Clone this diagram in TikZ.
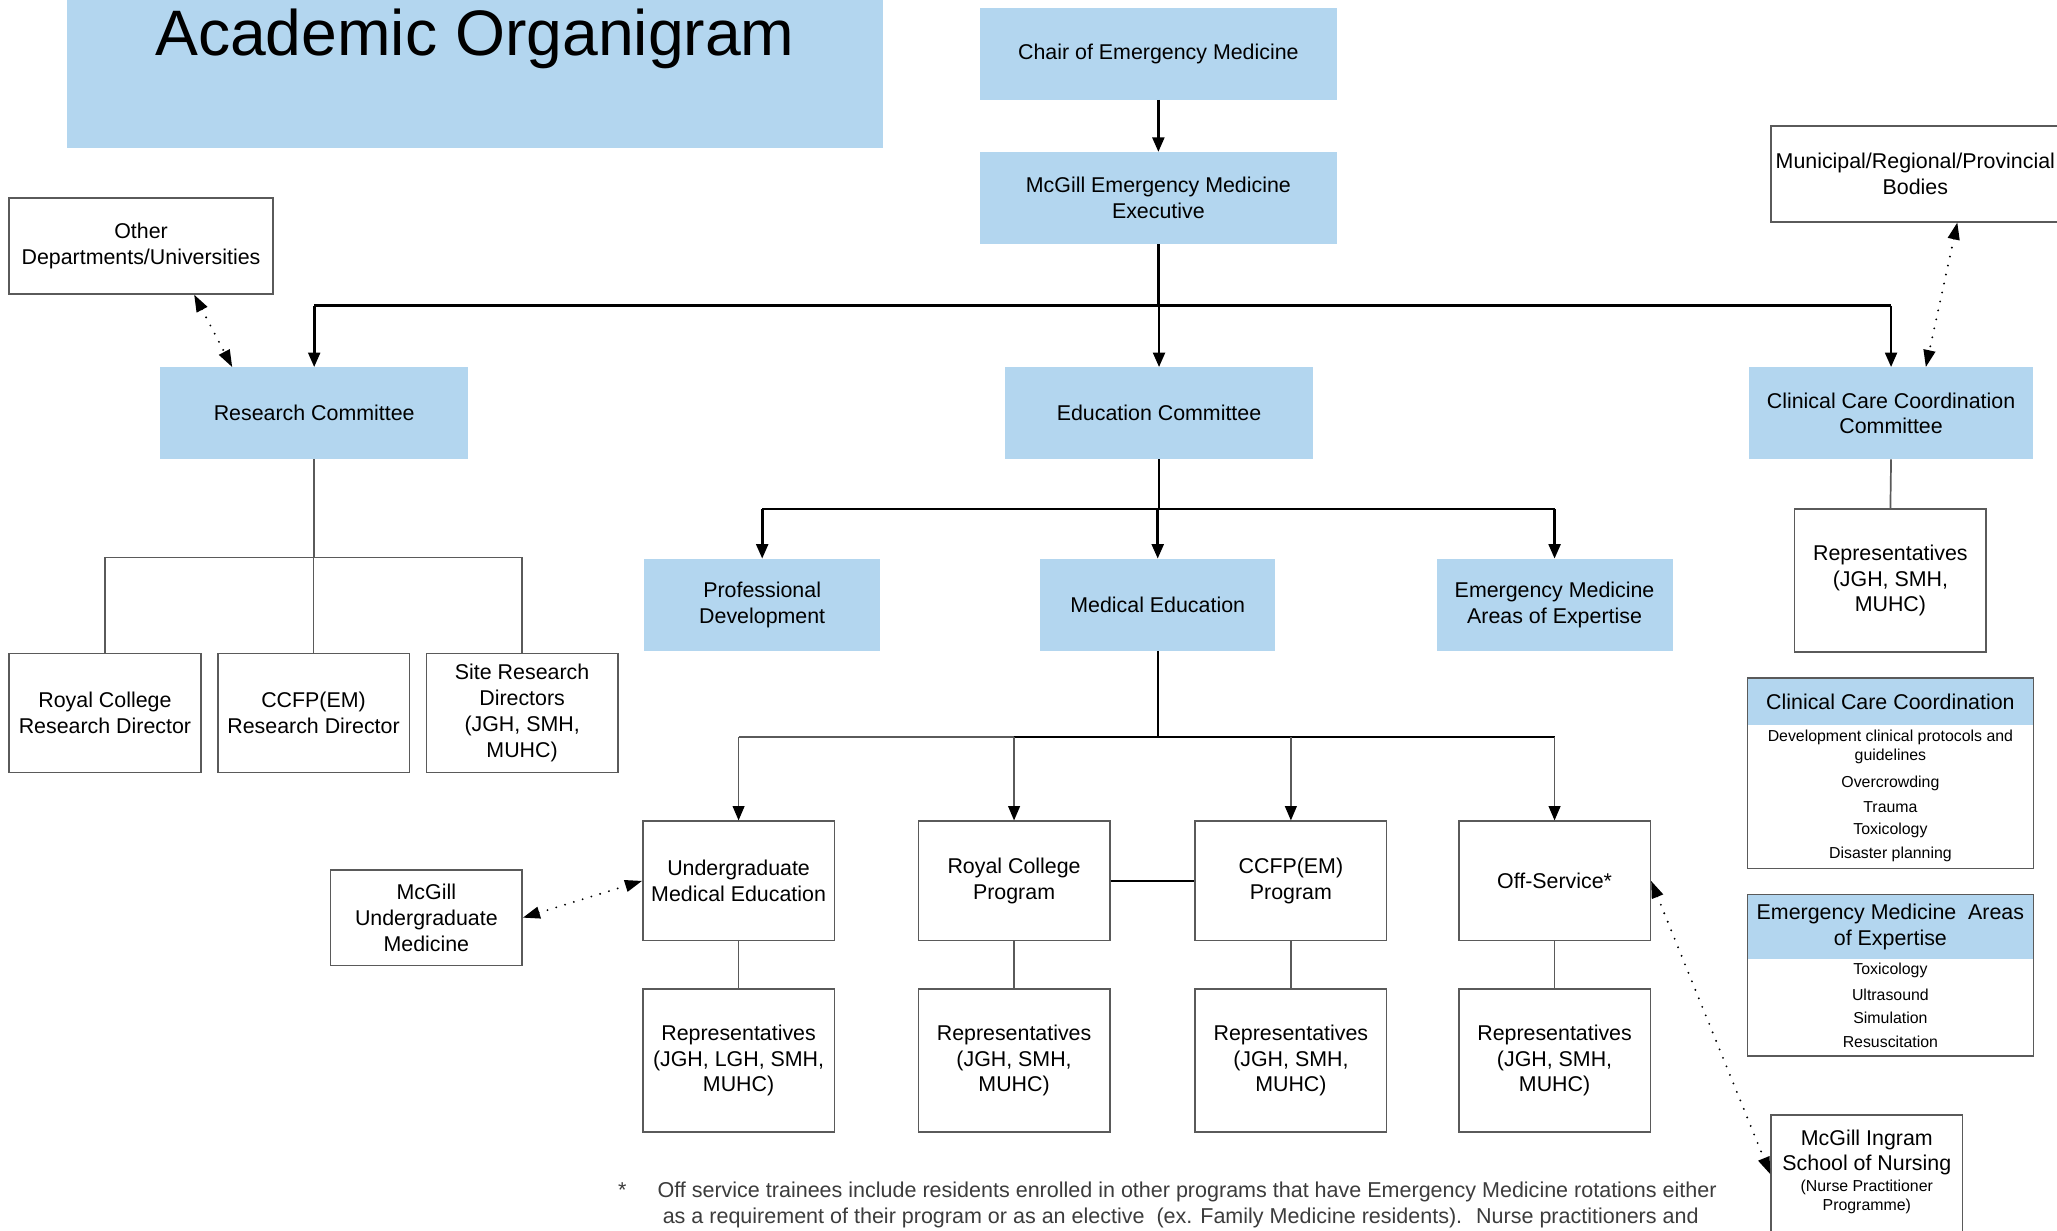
\documentclass[tikz,border=0pt]{standalone}
\usepackage{fontspec}
\setmainfont{Liberation Sans}
\usetikzlibrary{arrows.meta,calc}
\definecolor{boxblue}{HTML}{B3D6EF}
\definecolor{lineg}{HTML}{5A5A5A}
\definecolor{notegray}{HTML}{3C3C3C}
\newcommand{\mf}{\fontsize{16.3}{19.6}\selectfont}
\newcommand{\sfn}{\fontsize{12.1}{14.5}\selectfont}
\newcommand{\nf}{\fontsize{16.4}{19.5}\selectfont}
\begin{document}
\begin{tikzpicture}[x=1pt,y=-1pt,
 bluebox/.style={fill=boxblue, draw=none, align=center, font=\mf, inner sep=0pt},
 whitebox/.style={draw=lineg, line width=1.2pt, fill=white, align=center, font=\mf, inner sep=0pt},
 thk/.style={line width=2pt, black},
 thn/.style={line width=1.3pt, lineg},
 arr/.style={-{Triangle[length=11pt,width=9pt,color=black]}},
 dotl/.style={line width=1.6pt, dash pattern=on 0pt off 7pt, line cap=round, {Triangle[length=13pt,width=9pt]}-{Triangle[length=13pt,width=9pt]}},
 item/.style={font=\sfn, align=center, inner sep=0pt}
]
\clip (0,0) rectangle (1568,938);
\fill[white] (0,0) rectangle (1568,938);

% title
\node[fill=boxblue, minimum width=622, minimum height=113, inner sep=0pt] (titlebox) at (362,56.5) {};
\node[anchor=base, font=\fontsize{49}{58}\selectfont, inner sep=0pt] (title) at (362,42) {Academic Organigram};

% top level
\node[bluebox, minimum width=272, minimum height=70] (chair) at (883,41) {Chair of Emergency Medicine};
\node[bluebox, minimum width=272, minimum height=70] (exec) at (883,151) {McGill Emergency Medicine\\Executive};
\node[bluebox, minimum width=235, minimum height=70] (research) at (239.5,315) {Research Committee};
\node[bluebox, minimum width=235, minimum height=70] (educ) at (883.5,315) {Education Committee};
\node[bluebox, minimum width=217, minimum height=70] (clin) at (1441.5,315) {Clinical Care Coordination\\Committee};
\node[whitebox, minimum width=201, minimum height=73] (other) at (107.5,187.5) {Other\\Departments/Universities};
\node[whitebox, minimum width=220, minimum height=73] (munic) at (1460,132.5) {Municipal/Regional/Provincial\\Bodies};

% research subtree
\node[whitebox, minimum width=146, minimum height=91] (rcrd) at (80,543.5) {Royal College\\Research Director};
\node[whitebox, minimum width=146, minimum height=91] (ccrd) at (239,543.5) {CCFP(EM)\\Research Director};
\node[whitebox, minimum width=146, minimum height=91] (site) at (398,543.5) {Site Research\\Directors\\(JGH, SMH,\\MUHC)};

% education subtree
\node[bluebox, minimum width=180, minimum height=70] (prof) at (581,461) {Professional\\Development};
\node[bluebox, minimum width=179, minimum height=70] (meded) at (882.5,461) {Medical Education};
\node[bluebox, minimum width=180, minimum height=70] (emae) at (1185,461) {Emergency Medicine\\Areas of Expertise};

\node[whitebox, minimum width=146, minimum height=91] (ume) at (563,671.5) {Undergraduate\\Medical Education};
\node[whitebox, minimum width=146, minimum height=91] (rcp) at (773,671.5) {Royal College\\Program};
\node[whitebox, minimum width=146, minimum height=91] (ccfp) at (984,671.5) {CCFP(EM)\\Program};
\node[whitebox, minimum width=146, minimum height=91] (off) at (1185,671.5) {Off-Service*};

\node[whitebox, minimum width=146, minimum height=109] (rep1) at (563,808.5) {Representatives\\(JGH, LGH, SMH,\\MUHC)};
\node[whitebox, minimum width=146, minimum height=109] (rep2) at (773,808.5) {Representatives\\(JGH, SMH,\\MUHC)};
\node[whitebox, minimum width=146, minimum height=109] (rep3) at (984,808.5) {Representatives\\(JGH, SMH,\\MUHC)};
\node[whitebox, minimum width=146, minimum height=109] (rep4) at (1185,808.5) {Representatives\\(JGH, SMH,\\MUHC)};

\node[whitebox, minimum width=146, minimum height=73] (mum) at (325,699.5) {McGill\\Undergraduate\\Medicine};

% clinical side
\node[whitebox, minimum width=146, minimum height=109] (clrep) at (1441,442.5) {Representatives\\(JGH, SMH,\\MUHC)};

\node[fill=boxblue, minimum width=218, minimum height=36, inner sep=0pt, font=\mf] (ccchead) at (1441,535) {Clinical Care Coordination};
\node[item] (ccc1) at (1441,569.5) {Development clinical protocols and\\guidelines};
\node[item] (ccc2) at (1441,597) {Overcrowding};
\node[item] (ccc3) at (1441,615) {Trauma};
\node[item] (ccc4) at (1441,633) {Toxicology};
\node[item] (ccc5) at (1441,651) {Disaster planning};
\node[draw=lineg, line width=1.2pt, minimum width=218, minimum height=145, inner sep=0pt] (cccbox) at (1441,589.5) {};

\node[fill=boxblue, minimum width=218, minimum height=49, inner sep=0pt, font=\mf, align=center] (emahead) at (1441,706.5) {Emergency Medicine~ Areas\\of Expertise};
\node[item] (ema1) at (1441,740) {Toxicology};
\node[item] (ema2) at (1441,758) {Ultrasound};
\node[item] (ema3) at (1441,776) {Simulation};
\node[item] (ema4) at (1441,794) {Resuscitation};
\node[draw=lineg, line width=1.2pt, minimum width=218, minimum height=123, inner sep=0pt] (emabox) at (1441,743.5) {};

\node[whitebox, minimum width=146, minimum height=120] (nurs) at (1423,910) {};
\node[font=\mf, align=center, inner sep=0pt] (nurs1) at (1423,878.5) {McGill Ingram\\School of Nursing};
\node[item] (nurs2) at (1423,912.5) {(Nurse Practitioner\\Programme)};

% connectors
\coordinate (j1) at (883,233);
\coordinate (j2) at (239,425);
\coordinate (j3) at (883,388);
\coordinate (j4) at (883,562);

\draw[thk,arr] (chair) -- (exec);
\draw[thk] (exec.south) -- (j1);
\draw[thk] (research.north |- j1) -- (clin.north |- j1);
\draw[thk,arr] (research.north |- j1) -- (research.north);
\draw[thk,arr] (educ.north |- j1) -- (educ.north);
\draw[thk,arr] (clin.north |- j1) -- (clin.north);

\draw[thn] (research.south) -- (research.south |- j2);
\draw[thn] (rcrd.north) -- (rcrd.north |- j2) -- (site.north |- j2) -- (site.north);
\draw[thn] (ccrd.north |- j2) -- (ccrd.north);

\draw[thk] (educ.south) -- (educ.south |- j3);
\draw[thk] (prof.north |- j3) -- (emae.north |- j3);
\draw[thk,arr] (prof.north |- j3) -- (prof.north);
\draw[thk,arr] (meded.north |- j3) -- (meded.north);
\draw[thk,arr] (emae.north |- j3) -- (emae.north);

\draw[line width=1.6pt, black] (meded.south) -- (meded.south |- j4);
\draw[thn] (ume.north |- j4) -- (rcp.north |- j4);
\draw[line width=1.6pt, black] (rcp.north |- j4) -- (off.north |- j4);
\draw[thn,arr] (ume.north |- j4) -- (ume.north);
\draw[thn,arr] (rcp.north |- j4) -- (rcp.north);
\draw[thn,arr] (ccfp.north |- j4) -- (ccfp.north);
\draw[thn,arr] (off.north |- j4) -- (off.north);

\draw[thk] (rcp.east) -- (ccfp.west);

\draw[thn] (ume.south) -- (rep1.north);
\draw[thn] (rcp.south) -- (rep2.north);
\draw[thn] (ccfp.south) -- (rep3.north);
\draw[thn] (off.south) -- (rep4.north);

\draw[thn] (clin.south) -- (clrep.north);

\draw[dotl] ([xshift=40.5pt]other.south) -- ([xshift=-62.5pt]research.north);
\draw[dotl] ([xshift=32pt]munic.south) -- ([xshift=26.5pt]clin.north);
\draw[dotl] (mum.east) -- (ume.west);
\draw[dotl] (off.east) -- ([yshift=15pt]nurs.west);

% footnote
\node[font=\nf, text=notegray, anchor=base west, inner sep=0pt] (star) at (471,913) {*};
\node[font=\nf, text=notegray, anchor=base west, inner sep=0pt] (note1) at (501,913) {Off service trainees include residents enrolled in other programs that have Emergency Medicine rotations either};
\node[font=\nf, text=notegray, anchor=base west, inner sep=0pt] (note2) at (505,933) {as a requirement of their program or as an elective~ (ex. Family Medicine residents).~ Nurse practitioners and};
\end{tikzpicture}
\end{document}
